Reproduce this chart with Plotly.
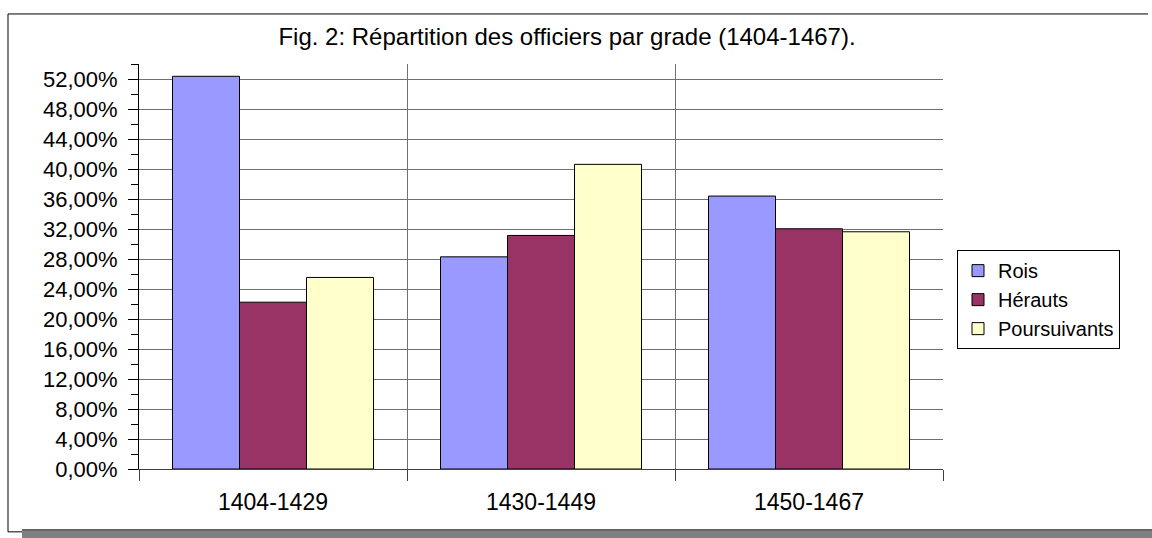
import plotly.graph_objects as go

categories = ["1404-1429", "1430-1449", "1450-1467"]
rois = [0.5236, 0.2829, 0.3639]
herauts = [0.2224, 0.3114, 0.3203]
poursuivants = [0.2554, 0.4062, 0.3163]
series_names = ["Rois", "Hérauts", "Poursuivants"]
series_colors = ["#9999FF", "#993366", "#FFFFCC"]
y_tick_values = [i * 0.04 for i in range(14)]
y_tick_labels = ["0,00%", "4,00%", "8,00%", "12,00%", "16,00%", "20,00%", "24,00%",
                 "28,00%", "32,00%", "36,00%", "40,00%", "44,00%", "48,00%", "52,00%"]
title_text = "Fig. 2: Répartition des officiers par grade (1404-1467)."

W, H = 1152, 538
L, R, T, B = 139, 943, 64, 468.7

x_pos = list(range(len(categories)))
fig = go.Figure()
for name, vals, col in zip(series_names, [rois, herauts, poursuivants], series_colors):
    fig.add_trace(go.Bar(x=x_pos, y=vals, name=name,
                         marker=dict(color=col, line=dict(color="black", width=1))))

FONT = "Liberation Sans, Arial, sans-serif"

def px2x(px):
    return (px - L) / (R - L)

def px2y(py):
    return (B - py) / (B - T)

fig.update_layout(
    width=W, height=H,
    margin=dict(l=L, r=W - R, t=T, b=H - B, pad=0),
    paper_bgcolor="white", plot_bgcolor="white",
    barmode="group", bargap=0.25, bargroupgap=0,
    font=dict(family=FONT, color="black", size=20),
    title=dict(text=title_text, x=567 / W, xanchor="center", y=1 - 37 / H, yanchor="middle",
               font=dict(size=24, family=FONT, color="black")),
    legend=dict(x=px2x(957), y=px2y(250), xanchor="left", yanchor="top",
                bordercolor="black", borderwidth=1, bgcolor="white",
                font=dict(size=20, family=FONT, color="black"),
                tracegroupgap=0),
    showlegend=True,
)

fig.update_xaxes(
    range=[-0.5, 2.5], tickmode="array", tickvals=x_pos, ticktext=categories,
    ticks="", showgrid=False, showline=True, linecolor="#404040", linewidth=1,
    zeroline=False, tickfont=dict(size=23, family=FONT, color="black"),
    ticklabelstandoff=12,
    minor=dict(tickmode="array", tickvals=[-0.5, 0.5, 1.5, 2.5], ticks="outside",
               ticklen=11, tickcolor="#404040", tickwidth=1,
               showgrid=True, gridcolor="#707070", gridwidth=1),
)
fig.update_yaxes(
    range=[0, 0.54], tickmode="array", tickvals=y_tick_values, ticktext=y_tick_labels,
    ticks="outside", ticklen=10, tickcolor="black", tickwidth=1,
    showgrid=True, gridcolor="#707070", gridwidth=1,
    showline=True, linecolor="black", linewidth=1, zeroline=False,
    tickfont=dict(size=22, family=FONT, color="black"),
    ticklabelstandoff=6,
    minor=dict(dtick=0.02, ticks="outside", ticklen=7, tickcolor="black", tickwidth=1, showgrid=False),
)

# outer chart frame
fig.add_shape(type="line", xref="paper", yref="paper",
              x0=px2x(8), x1=px2x(1148), y0=px2y(14), y1=px2y(14),
              line=dict(color="black", width=1), layer="above")
fig.add_shape(type="line", xref="paper", yref="paper",
              x0=px2x(8), x1=px2x(8), y0=px2y(14), y1=px2y(531.5),
              line=dict(color="black", width=1), layer="above")
fig.add_shape(type="line", xref="paper", yref="paper",
              x0=px2x(8), x1=px2x(30), y0=px2y(531.5), y1=px2y(531.5),
              line=dict(color="black", width=1), layer="above")
# grey shadow at the bottom
fig.add_shape(type="rect", xref="paper", yref="paper",
              x0=px2x(22), x1=px2x(1152), y0=px2y(529), y1=px2y(538),
              line=dict(width=0), fillcolor="#808080", layer="above")
fig.add_shape(type="line", xref="paper", yref="paper",
              x0=px2x(22), x1=px2x(1152), y0=px2y(529.5), y1=px2y(529.5),
              line=dict(color="#404040", width=1), layer="above")

fig.write_html("out.html", config={"displayModeBar": False},
               post_script="document.body.style.margin='0';document.body.style.overflow='hidden';")
